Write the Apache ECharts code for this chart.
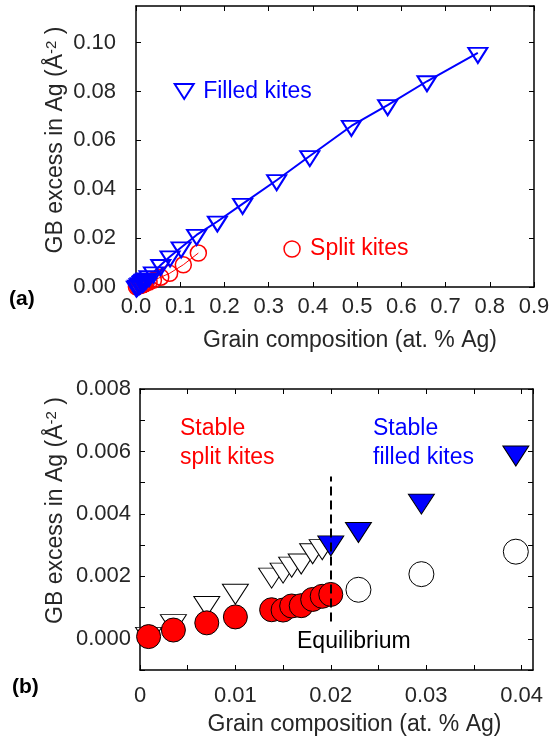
<!DOCTYPE html>
<html>
<head>
<meta charset="utf-8">
<script src="https://cdn.jsdelivr.net/npm/echarts@6/dist/echarts.min.js"></script>
<style>
  html, body { margin: 0; padding: 0; background: #fff; }
  #chart { width: 554px; height: 743px; }
</style>
</head>
<body>
<div id="chart"></div>
<script>
// grain compositions (at. % Ag) shared by both kite types, low range
const compLow = [0.0009, 0.0035, 0.0070, 0.0100, 0.0138, 0.0150, 0.0159, 0.0169, 0.0181, 0.0191, 0.0200];
const compMid = [0.0229, 0.0295, 0.0394];
// GB excess (1/A^2)
const splitLow = [0.00007, 0.00028, 0.00051, 0.00070, 0.00093, 0.00092, 0.00105, 0.00106, 0.00126, 0.00136, 0.00142];
const splitMid = [0.00157, 0.00207, 0.00279];
const filledLow = [0.00015, 0.00056, 0.00114, 0.00153, 0.00205, 0.00221, 0.00240, 0.00250, 0.00283, 0.00296];
const filledStable = [0.00308, 0.00351, 0.00442, 0.00596];
// larger compositions, only in panel (a)
const compSplitHigh = [0.056, 0.076, 0.107, 0.141];
const splitHigh = [0.0040, 0.0056, 0.0091, 0.0139];
const compFilledHigh = [0.056, 0.077, 0.102, 0.137, 0.184, 0.241, 0.318, 0.393, 0.487, 0.569, 0.658, 0.773];
const filledHigh = [0.0090, 0.0125, 0.0162, 0.0213, 0.0268, 0.0340, 0.0437, 0.0536, 0.0659, 0.0744, 0.0842, 0.0958];
// equilibrium marker
const eqComp = 0.0200;
const eqSpan = [0.00055, 0.0052];

const FONT = 'Liberation Sans, Arial, sans-serif';
const TXT = '#262626';

function pairs(xs, ys) { return xs.map((x, i) => [x, ys[i]]); }
function isMult(v, step) { const r = v / step; return Math.abs(r - Math.round(r)) < 1e-6; }

const topFilled = pairs(compLow.concat(compMid, compFilledHigh), filledLow.concat(filledStable, filledHigh));
const topSplit = pairs(compLow.concat(compMid, compSplitHigh), splitLow.concat(splitMid, splitHigh));

const frameAxis = (grid, pos) => ({
  gridIndex: grid, position: pos, type: 'value',
  axisLine: { show: true, onZero: false, lineStyle: { color: '#000', width: 1.5 } },
  axisTick: { show: true, inside: true, length: 5, lineStyle: { color: '#000' } },
  axisLabel: { show: false }, splitLine: { show: false }
});

const yName = '{a|GB excess in Ag (Å}{b|-2}{a| )}';
const yRich = {
  a: { fontSize: 23, fontFamily: FONT, color: TXT },
  b: { fontSize: 15, fontFamily: FONT, color: TXT, verticalAlign: 'top' }
};

const chart = echarts.init(document.getElementById('chart'));
chart.setOption({
  animation: false,
  backgroundColor: '#fff',
  grid: [
    { left: 136, top: 6, width: 398, height: 281, outerBoundsMode: 'none', containLabel: false },
    { left: 140, top: 389, width: 393, height: 281, outerBoundsMode: 'none', containLabel: false }
  ],
  xAxis: [
    Object.assign(frameAxis(0, 'bottom'), {
      min: 0, max: 0.9, interval: 0.1,
      axisLabel: { show: true, margin: 9, fontSize: 22, fontFamily: FONT, color: TXT, formatter: v => v.toFixed(1) },
      name: 'Grain composition (at. % Ag)', nameLocation: 'middle', nameGap: 42, nameMoveOverlap: false,
      nameTextStyle: { fontSize: 23, fontFamily: FONT, color: TXT, padding: [0, 0, 0, 30] }
    }),
    Object.assign(frameAxis(0, 'top'), { min: 0, max: 0.9, interval: 0.1 }),
    Object.assign(frameAxis(1, 'bottom'), {
      min: 0, max: 0.0412, interval: 0.005,
      axisLabel: { show: true, margin: 15, fontSize: 22, fontFamily: FONT, color: TXT, showMaxLabel: false,
        formatter: v => (isMult(v, 0.01) ? (v === 0 ? '0' : v.toFixed(2)) : '') },
      name: 'Grain composition (at. % Ag)', nameLocation: 'middle', nameGap: 43, nameMoveOverlap: false,
      nameTextStyle: { fontSize: 23, fontFamily: FONT, color: TXT, padding: [0, 0, 0, 36] }
    }),
    Object.assign(frameAxis(1, 'top'), { min: 0, max: 0.0412, interval: 0.005 })
  ],
  yAxis: [
    Object.assign(frameAxis(0, 'left'), {
      min: 0, max: 0.115, interval: 0.02,
      axisLabel: { show: true, margin: 20, fontSize: 22, fontFamily: FONT, color: TXT, showMaxLabel: false,
        formatter: v => (isMult(v, 0.02) ? v.toFixed(2) : '') },
      name: yName, nameLocation: 'middle', nameRotate: 90, nameGap: 69, nameMoveOverlap: false,
      nameTextStyle: { rich: yRich, padding: [0, 0, 0, 13] }
    }),
    Object.assign(frameAxis(0, 'right'), { min: 0, max: 0.115, interval: 0.02 }),
    Object.assign(frameAxis(1, 'left'), {
      min: -0.001, max: 0.008, interval: 0.001,
      axisLabel: { show: true, margin: 9, fontSize: 22, fontFamily: FONT, color: TXT,
        formatter: v => (isMult(v, 0.002) ? v.toFixed(3) : '') },
      name: yName, nameLocation: 'middle', nameRotate: 90, nameGap: 73, nameMoveOverlap: false,
      nameTextStyle: { rich: yRich, padding: [0, 0, 0, 38] }
    }),
    Object.assign(frameAxis(1, 'right'), { min: -0.001, max: 0.008, interval: 0.001 })
  ],
  legend: [
    {
      left: 173.7, top: 80, padding: 0, itemWidth: 28, itemHeight: 15, selectedMode: false,
      textStyle: { color: '#0000ff', fontSize: 23, fontFamily: FONT },
      data: [{ name: 'Filled kites', icon: 'path://M0,0L19,0L9.5,15Z',
        itemStyle: { color: 'transparent', borderColor: '#0000ff', borderWidth: 2 } }]
    },
    {
      left: 283.3, top: 237.5, padding: 0, itemWidth: 26, itemHeight: 16, selectedMode: false,
      textStyle: { color: '#ff0000', fontSize: 23, fontFamily: FONT },
      data: [{ name: 'Split kites', icon: 'circle',
        itemStyle: { color: 'transparent', borderColor: '#ff0000', borderWidth: 1.5 } }]
    }
  ],
  series: [
    // panel (a)
    {
      name: 'Split kites', type: 'line', xAxisIndex: 0, yAxisIndex: 0, data: topSplit,
      symbol: 'circle', symbolSize: 16,
      lineStyle: { color: '#ff0000', width: 1 },
      itemStyle: { color: 'transparent', borderColor: '#ff0000', borderWidth: 1.5 }
    },
    {
      name: 'Filled kites', type: 'line', xAxisIndex: 0, yAxisIndex: 0, data: topFilled,
      symbol: 'triangle', symbolRotate: 180, symbolSize: [19, 15], symbolOffset: [0, 2.5],
      lineStyle: { color: '#0000ff', width: 2 },
      itemStyle: { color: 'transparent', borderColor: '#0000ff', borderWidth: 2 }
    },
    // panel (b)
    {
      name: 'unstable filled', type: 'scatter', xAxisIndex: 2, yAxisIndex: 2,
      data: pairs(compLow.slice(0, filledLow.length), filledLow),
      symbol: 'triangle', symbolRotate: 180, symbolSize: [26, 20], symbolOffset: [0, 3.3],
      itemStyle: { color: '#fff', borderColor: '#000', borderWidth: 1, opacity: 1 }
    },
    {
      name: 'stable filled', type: 'scatter', xAxisIndex: 2, yAxisIndex: 2,
      data: pairs([eqComp].concat(compMid), filledStable),
      symbol: 'triangle', symbolRotate: 180, symbolSize: [26, 20], symbolOffset: [0, 3.3],
      itemStyle: { color: '#0000ff', borderColor: '#000', borderWidth: 1, opacity: 1 }
    },
    {
      name: 'unstable split', type: 'scatter', xAxisIndex: 2, yAxisIndex: 2,
      data: pairs(compMid, splitMid),
      symbol: 'circle', symbolSize: 25,
      itemStyle: { color: '#fff', borderColor: '#000', borderWidth: 1, opacity: 1 }
    },
    {
      name: 'stable split', type: 'scatter', xAxisIndex: 2, yAxisIndex: 2,
      data: pairs(compLow, splitLow),
      symbol: 'circle', symbolSize: 24,
      itemStyle: { color: '#ff0000', borderColor: '#000', borderWidth: 1, opacity: 1 },
      markLine: {
        silent: true, symbol: 'none', z: 10,
        label: { show: false },
        lineStyle: { color: '#000', width: 2, type: [9, 5] },
        data: [[{ coord: [eqComp, eqSpan[0]] }, { coord: [eqComp, eqSpan[1]] }]]
      }
    }
  ],
  graphic: [
    { type: 'text', x: 9, y: 299, style: { text: '(a)', fill: '#000', fontSize: 21, fontWeight: 'bold', fontFamily: FONT, verticalAlign: 'middle' } },
    { type: 'text', x: 12, y: 687, style: { text: '(b)', fill: '#000', fontSize: 21, fontWeight: 'bold', fontFamily: FONT, verticalAlign: 'middle' } },
    { type: 'text', x: 180, y: 429, style: { text: 'Stable', fill: '#ff0000', fontSize: 23, fontFamily: FONT, verticalAlign: 'middle' } },
    { type: 'text', x: 180, y: 458, style: { text: 'split kites', fill: '#ff0000', fontSize: 23, fontFamily: FONT, verticalAlign: 'middle' } },
    { type: 'text', x: 373, y: 429, style: { text: 'Stable', fill: '#0000ff', fontSize: 23, fontFamily: FONT, verticalAlign: 'middle' } },
    { type: 'text', x: 373, y: 458, style: { text: 'filled kites', fill: '#0000ff', fontSize: 23, fontFamily: FONT, verticalAlign: 'middle' } },
    { type: 'text', x: 297, y: 642, style: { text: 'Equilibrium', fill: '#000', fontSize: 23, fontFamily: FONT, verticalAlign: 'middle' } }
  ]
});
</script>
</body>
</html>
